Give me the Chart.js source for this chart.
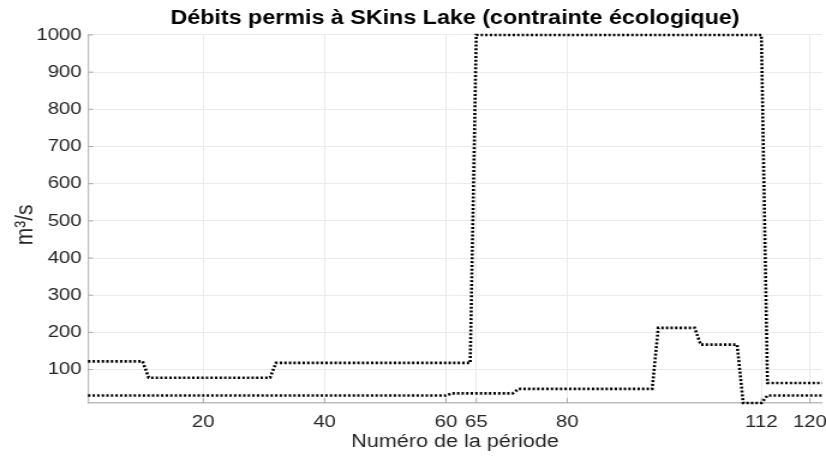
<!DOCTYPE html>
<html>
<head>
<meta charset="utf-8">
<script src="https://cdn.jsdelivr.net/npm/chart.js@4"></script>
<style>
  html, body { margin: 0; padding: 0; background: #ffffff; overflow: hidden; }
</style>
</head>
<body>
<canvas id="chart" width="688" height="456" style="display:block;width:826px;height:456px"></canvas>
<script>
// Texts
const chartTitle = 'Débits permis à SKins Lake (contrainte écologique)';
const xAxisTitle = 'Numéro de la période';
const yAxisTitle = 'm³/s  ';

// Tick labels
const xTickValues = [20, 40, 60, 65, 80, 112, 120];
const yTickValues = [100, 200, 300, 400, 500, 600, 700, 800, 900, 1000];

// Upper bound of the allowed outflow (period where the value changes, value)
const upperPeriods = [1, 10, 11, 31, 32, 64, 65, 112, 113, 122];
const upperFlows   = [122, 122, 78, 78, 118, 118, 1000, 1000, 64, 64];

// Lower bound of the allowed outflow
const lowerPeriods = [1, 60, 61, 71, 72, 94, 95, 101, 102, 108, 109, 112, 113, 122];
const lowerFlows   = [30, 30, 36, 36, 48, 48, 212, 212, 167, 167, 10, 10, 30, 30];

const toPoints = (xs, ys) => xs.map((x, i) => ({ x: x, y: ys[i] }));

const FONT = "'Liberation Sans', Arial, Helvetica, sans-serif";
const AXIS_COLOR = '#bdbdbd';
const GRID_COLOR = '#ebebeb';
const TEXT_COLOR = '#262626';
const STRETCH = 826 / 688;

// Short tick marks pointing into the plot area
const innerTicks = {
  id: 'innerTicks',
  beforeDatasetsDraw(chart) {
    const { ctx, chartArea, scales } = chart;
    const x = scales.x, y = scales.y;
    ctx.save();
    ctx.strokeStyle = '#a8a8a8';
    ctx.lineWidth = 1;
    ctx.beginPath();
    x.ticks.forEach(t => {
      const px = x.getPixelForValue(t.value);
      ctx.moveTo(px, chartArea.bottom);
      ctx.lineTo(px, chartArea.bottom - 5);
    });
    y.ticks.forEach(t => {
      const py = y.getPixelForValue(t.value);
      ctx.moveTo(chartArea.left, py);
      ctx.lineTo(chartArea.left + 5 / STRETCH, py);
    });
    ctx.stroke();
    ctx.restore();
  }
};

const lineStyle = {
  borderColor: '#000000',
  backgroundColor: '#000000',
  borderWidth: 2.6,
  borderDash: [2, 1.8],
  borderCapStyle: 'butt',
  pointRadius: 0,
  tension: 0,
  fill: false,
  clip: false
};

const canvas = document.getElementById('chart');
const chart = new Chart(canvas, {
  type: 'line',
  data: {
    datasets: [
      Object.assign({ label: 'Débit maximal', data: toPoints(upperPeriods, upperFlows) }, lineStyle),
      Object.assign({ label: 'Débit minimal', data: toPoints(lowerPeriods, lowerFlows) }, lineStyle)
    ]
  },
  plugins: [innerTicks],
  options: {
    responsive: false,
    devicePixelRatio: 1,
    animation: false,
    events: [],
    layout: { padding: { left: 0, right: 3.3, top: 0, bottom: 0 } },
    plugins: {
      legend: { display: false },
      tooltip: { enabled: false },
      title: {
        display: true,
        fullSize: false,
        text: chartTitle,
        color: '#000000',
        font: { family: FONT, size: 19.4, weight: 'bold' },
        padding: { top: 7.4, bottom: 4.3 }
      }
    },
    scales: {
      x: {
        type: 'linear',
        min: 1,
        max: 122,
        afterBuildTicks: scale => { scale.ticks = xTickValues.map(v => ({ value: v })); },
        afterFit: scale => {
          scale.height = 53;
          scale.paddingLeft = 0;
          scale.paddingRight = 0;
        },
        ticks: {
          autoSkip: false,
          maxRotation: 0,
          padding: 9.3,
          color: TEXT_COLOR,
          font: { family: FONT, size: 17 },
          callback: v => String(v)
        },
        grid: { color: GRID_COLOR, lineWidth: 1, drawTicks: false },
        border: { display: true, color: AXIS_COLOR, width: 1.5 },
        title: {
          display: true,
          text: xAxisTitle,
          color: TEXT_COLOR,
          font: { family: FONT, size: 18 },
          padding: { top: 0, bottom: 3.6 }
        }
      },
      y: {
        type: 'linear',
        min: 10,
        max: 1000,
        afterBuildTicks: scale => { scale.ticks = yTickValues.map(v => ({ value: v })); },
        afterFit: scale => { scale.width = 73.3; },
        ticks: {
          padding: 5.3,
          color: TEXT_COLOR,
          font: { family: FONT, size: 17 },
          callback: v => String(v)
        },
        grid: { color: GRID_COLOR, lineWidth: 1, drawTicks: false },
        border: { display: true, color: AXIS_COLOR, width: 1.2 },
        title: {
          display: true,
          text: yAxisTitle,
          color: TEXT_COLOR,
          font: { family: FONT, size: 21 },
          padding: { top: 8.2, bottom: 0 }
        }
      }
    }
  }
});
canvas.style.width = '826px';
canvas.style.height = '456px';
</script>
</body>
</html>
